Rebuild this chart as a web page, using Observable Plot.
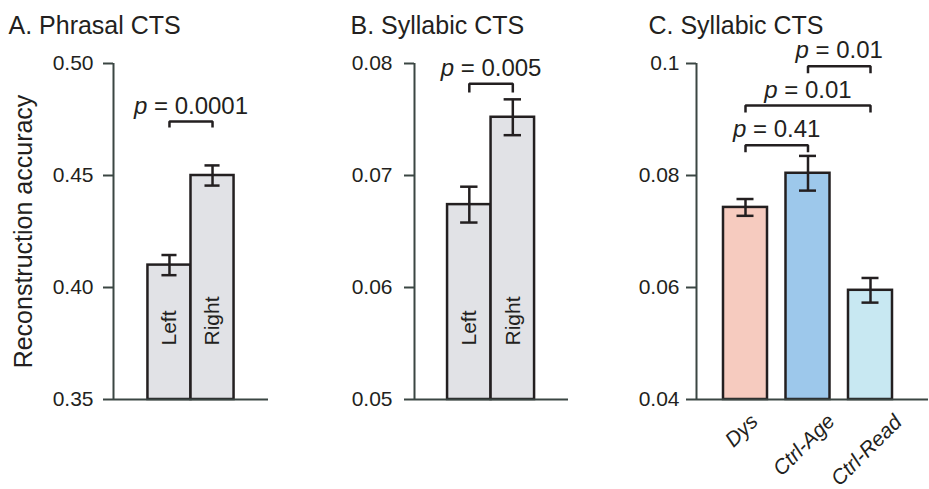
<!DOCTYPE html>
<html><head><meta charset="utf-8">
<script src="https://cdn.jsdelivr.net/npm/d3@7"></script>
<script src="https://cdn.jsdelivr.net/npm/@observablehq/plot@0.6"></script>
<style>
body{margin:0;background:#fff;}
#fig{position:relative;width:929px;height:489px;overflow:hidden;}
#fig svg{position:absolute;top:0;overflow:visible;}
#fig g[aria-label="y-axis tick"]{stroke:#3b4643;stroke-width:2;}
#fig g[aria-label="y-axis tick label"]{fill:#231f20;}
</style></head><body><div id="fig"></div>
<script>
const FONT = '"Liberation Sans", Arial, Helvetica, sans-serif';
const INK = "#231f20";
const AXIS = "#3b4643";

// Panel A: Phrasal CTS
const phrasalTitle = "A. Phrasal CTS";
const phrasalSides = ["Left", "Right"];
const phrasalMeans = [0.410, 0.450];
const phrasalErrors = [0.0045, 0.0045];
const phrasalFills = ["#e1e2e6", "#e1e2e6"];
const phrasalTicks = [0.35, 0.40, 0.45, 0.50];
const phrasalPairFrom = [0];
const phrasalPairTo = [1];
const phrasalPLabels = ["p = 0.0001"];
const phrasalBracketY = [0.4741];

// Panel B: Syllabic CTS (hemispheres)
const syllabicTitle = "B. Syllabic CTS";
const syllabicSides = ["Left", "Right"];
const syllabicMeans = [0.0674, 0.0752];
const syllabicErrors = [0.0016, 0.0016];
const syllabicFills = ["#e1e2e6", "#e1e2e6"];
const syllabicTicks = [0.05, 0.06, 0.07, 0.08];
const syllabicPairFrom = [0];
const syllabicPairTo = [1];
const syllabicPLabels = ["p = 0.005"];
const syllabicBracketY = [0.0782];

// Panel C: Syllabic CTS (groups)
const groupTitle = "C. Syllabic CTS";
const groupNames = ["Dys", "Ctrl-Age", "Ctrl-Read"];
const groupMeans = [0.0743, 0.0804, 0.0595];
const groupErrors = [0.0015, 0.0031, 0.0022];
const groupFills = ["#f6cbbf", "#9dc8eb", "#c8e8f2"];
const groupTicks = [0.04, 0.06, 0.08, 0.1];
const groupPairFrom = [0, 0, 1];
const groupPairTo = [1, 2, 2];
const groupPLabels = ["p = 0.41", "p = 0.01", "p = 0.01"];
const groupBracketY = [0.0854, 0.0925, 0.0995];

const yLabel = "Reconstruction accuracy";

function panel(c) {
  const [y0, y1] = c.yDomain;
  const rows = c.names.map((n, i) => ({name: n, i, mean: c.means[i], err: c.errs[i], fill: c.fills[i]}));
  const brackets = c.pLabels.flatMap((lab, k) => [
    {k, x: c.from[k], y: c.bracketY[k] - c.drop},
    {k, x: c.from[k], y: c.bracketY[k]},
    {k, x: c.to[k], y: c.bracketY[k]},
    {k, x: c.to[k], y: c.bracketY[k] - c.drop}
  ]);
  const ptext = c.pLabels.map((lab, k) => ({lab, x: (c.from[k] + c.to[k]) / 2, y: c.bracketY[k]}));
  const marks = [
    Plot.rect(rows, {x1: d => d.i - c.barHalf, x2: d => d.i + c.barHalf, y1: y0, y2: "mean", fill: "fill", stroke: INK, strokeWidth: 2.5}),
    Plot.ruleX(rows, {x: "i", y1: d => d.mean - d.err, y2: d => d.mean + d.err, stroke: INK, strokeWidth: 2.5}),
    Plot.ruleY(rows, {y: d => d.mean + d.err, x1: d => d.i - c.capHalf, x2: d => d.i + c.capHalf, stroke: INK, strokeWidth: 2.5}),
    Plot.ruleY(rows, {y: d => d.mean - d.err, x1: d => d.i - c.capHalf, x2: d => d.i + c.capHalf, stroke: INK, strokeWidth: 2.5}),
    Plot.ruleX([c.xDomain[0]], {y1: y0, y2: y1, stroke: AXIS, strokeWidth: 2}),
    Plot.ruleY([y0], {x1: c.xDomain[0], x2: c.xDomain[1], stroke: AXIS, strokeWidth: 2}),
    Plot.line(brackets, {x: "x", y: "y", z: "k", stroke: INK, strokeWidth: 2.5, strokeLinejoin: "miter", strokeLinecap: "butt"}),
    Plot.text(ptext, {x: "x", y: "y", text: "lab", lineAnchor: "bottom", dy: -8, fontSize: 24, fill: INK}),
    Plot.text([c.title], {text: d => d, frameAnchor: "top-left", textAnchor: "start", lineAnchor: "bottom", dx: c.titleDx, dy: -30, fontSize: 25, fill: INK})
  ];
  if (c.inside) {
    marks.push(Plot.text(rows, {x: "i", y: y0, text: "name", rotate: -90, textAnchor: "start", lineAnchor: "middle", dy: -54, fontSize: 21, fill: INK}));
  } else {
    marks.push(Plot.text(rows, {x: "i", y: y0, text: "name", rotate: -45, textAnchor: "middle", lineAnchor: "middle", fontSize: 21, fontStyle: "italic", fill: INK}));
  }
  if (c.ylabel) {
    marks.push(Plot.text([c.ylabel], {text: d => d, frameAnchor: "left", rotate: -90, dx: -90, textAnchor: "middle", lineAnchor: "middle", fontSize: 25, fill: INK}));
  }
  const svg = Plot.plot({
    width: c.width, height: 489,
    marginLeft: c.marginLeft, marginRight: c.marginRight, marginTop: 63, marginBottom: 90,
    x: {domain: c.xDomain, axis: null},
    y: {domain: c.yDomain, ticks: c.ticks, tickFormat: c.tickFormat, tickSize: 10, tickPadding: c.tickPadding, label: null},
    color: {type: "identity"},
    style: {fontFamily: FONT, fontSize: "21px", color: INK, background: "transparent", overflow: "visible"},
    marks
  });
  svg.style.left = c.left + "px";
  document.getElementById("fig").appendChild(svg);
  d3.select(svg).selectAll("text").each(function() {
    const t = this.textContent;
    if (this.childElementCount === 0 && t.startsWith("p = ")) {
      const s = d3.select(this);
      s.text(null);
      s.append("tspan").attr("font-style", "italic").text("p");
      s.append("tspan").text(t.slice(1));
    } else if (!c.inside && c.names.includes(t) && this.getAttribute("transform")) {
      // rotated category label: align the top of its box under the bar, centred horizontally
      const r = this.getBoundingClientRect();
      const shiftY = 409 - r.top;
      this.setAttribute("transform", `translate(-4,${shiftY.toFixed(2)}) ` + this.getAttribute("transform"));
    }
  });
}

const f2 = d3.format(".2f");

panel({left: 0, width: 300, marginLeft: 113, marginRight: 32, xDomain: [-1.3, 2.3], yDomain: [0.35, 0.50],
  ticks: phrasalTicks, tickFormat: f2, tickPadding: 10, names: phrasalSides, means: phrasalMeans, errs: phrasalErrors,
  fills: phrasalFills, barHalf: 0.5, capHalf: 0.175, from: phrasalPairFrom, to: phrasalPairTo, pLabels: phrasalPLabels,
  bracketY: phrasalBracketY, drop: 0.0027, title: phrasalTitle, titleDx: -105, inside: true, ylabel: yLabel});

panel({left: 300, width: 310, marginLeft: 114, marginRight: 42, xDomain: [-1.26, 2.28], yDomain: [0.05, 0.08],
  ticks: syllabicTicks, tickFormat: f2, tickPadding: 12, names: syllabicSides, means: syllabicMeans, errs: syllabicErrors,
  fills: syllabicFills, barHalf: 0.5, capHalf: 0.2, from: syllabicPairFrom, to: syllabicPairTo, pLabels: syllabicPLabels,
  bracketY: syllabicBracketY, drop: 0.0008, title: syllabicTitle, titleDx: -64, inside: true});

panel({left: 610, width: 319, marginLeft: 86, marginRight: 1, xDomain: [-0.784, 2.928], yDomain: [0.04, 0.1],
  ticks: groupTicks, tickFormat: d => String(d), tickPadding: 7, names: groupNames, means: groupMeans, errs: groupErrors,
  fills: groupFills, barHalf: 0.352, capHalf: 0.136, from: groupPairFrom, to: groupPairTo, pLabels: groupPLabels,
  bracketY: groupBracketY, drop: 0.00125, title: groupTitle, titleDx: -48, inside: false});
</script></body></html>
